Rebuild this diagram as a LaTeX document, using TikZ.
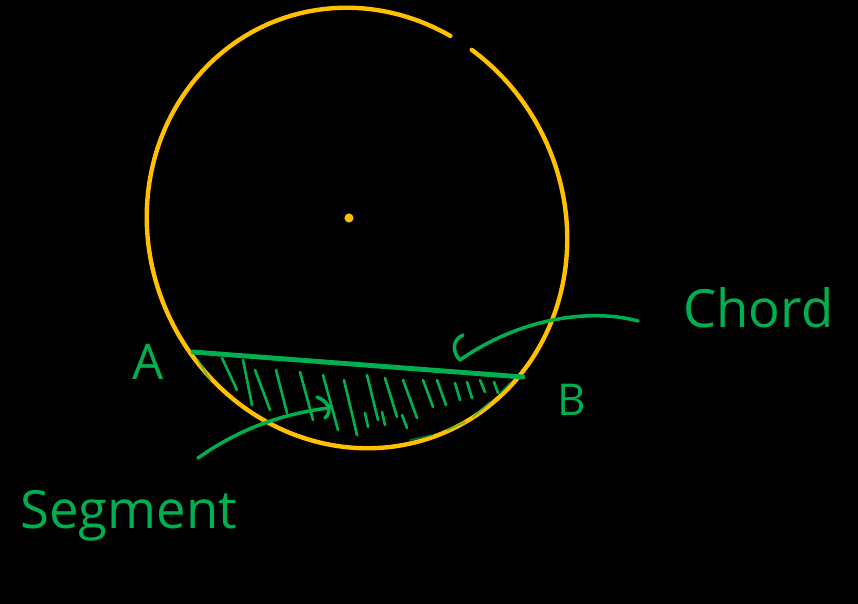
\documentclass[tikz,border=0pt]{standalone}
\usepackage{fontspec}
\setmainfont{Open Sans}
\usepackage{tikz}
\usetikzlibrary{positioning}
\definecolor{PenGreen}{HTML}{00B050}
\definecolor{PenGold}{HTML}{FFC000}
\definecolor{Board}{HTML}{000000}

\begin{document}
\begin{tikzpicture}[x=0.02cm,y=-0.02cm,
  rim/.style={draw=PenGold,line width=2.5pt,line cap=round,line join=round},
  ink/.style={draw=PenGreen,line width=2pt,line cap=round,line join=round},
  hatch/.style={draw=PenGreen,line width=1.5pt,line cap=round},
  handtext/.style={text=PenGreen,inner sep=0pt,font=\fontsize{30}{36}\selectfont}]
\fill[Board] (0,0) rectangle (858,604);
\useasboundingbox (0,0) rectangle (858,604);

\coordinate (ctr) at (349,218);
\coordinate (ptA) at (193,352);
\coordinate (ptB) at (523,377);
\coordinate (chordTail) at (638,321);
\coordinate (chordTip) at (460,360);
\coordinate (segTail) at (198,458);
\coordinate (segTip) at (328,408);

% circle, open near the top
\draw[rim,shift={(357,228)}] plot[domain=-56:297,samples=140,smooth]
  ({210*(1+0.025*sin(2*\x))*cos(\x)},{220*(1+0.025*sin(2*\x))*sin(\x)});
\fill[PenGold] (ctr) circle[radius=2.6pt];

% hatching of the segment
\foreach \xa/\ya/\xb/\yb in {222/358/237/390, 243/360/252/405, 255/370/270/410,
    276/370/287/413, 300/372/313/420, 323/375/338/430, 344/380/357/435,
    367/375/378/420, 385/378/397/417, 403/380/417/418, 423/380/433/407,
    437/380/446/405, 455/383/460/400, 467/382/472/398, 480/380/485/392,
    494/382/498/393, 365/413/368/427, 382/412/385/425, 402/415/407/428}
  \draw[hatch] (\xa,\ya) -- (\xb,\yb);
\foreach \xa/\ya/\xb/\yb in {198/360/210/380, 410/440/433/435, 447/430/465/422,
    473/417/490/402, 500/393/510/383}
  \draw[hatch,line width=1pt,opacity=0.6] (\xa,\ya) -- (\xb,\yb);

\draw[ink,line width=2.8pt] (ptA) -- (ptB);

% pointers
\draw[ink] (chordTail) .. controls (590,308) and (520,318) .. (chordTip)
  .. controls (452,352) and (452,340) .. (463,335);
\draw[ink] (segTail) .. controls (235,432) and (275,415) .. (segTip);
\draw[ink] (317,397) .. controls (330,402) and (332,412) .. (325,418);

\node[handtext,anchor=base west] (chordLbl) at (683,327) {Chord};
\node[handtext,anchor=base west] (segLbl) at (20,528) {Segment};
\node[handtext,font=\fontsize{28}{32}\selectfont] (lblA) at (148,362) {A};
\node[handtext,font=\fontsize{25}{28}\selectfont] (lblB) at (572,400) {B};
\end{tikzpicture}
\end{document}
